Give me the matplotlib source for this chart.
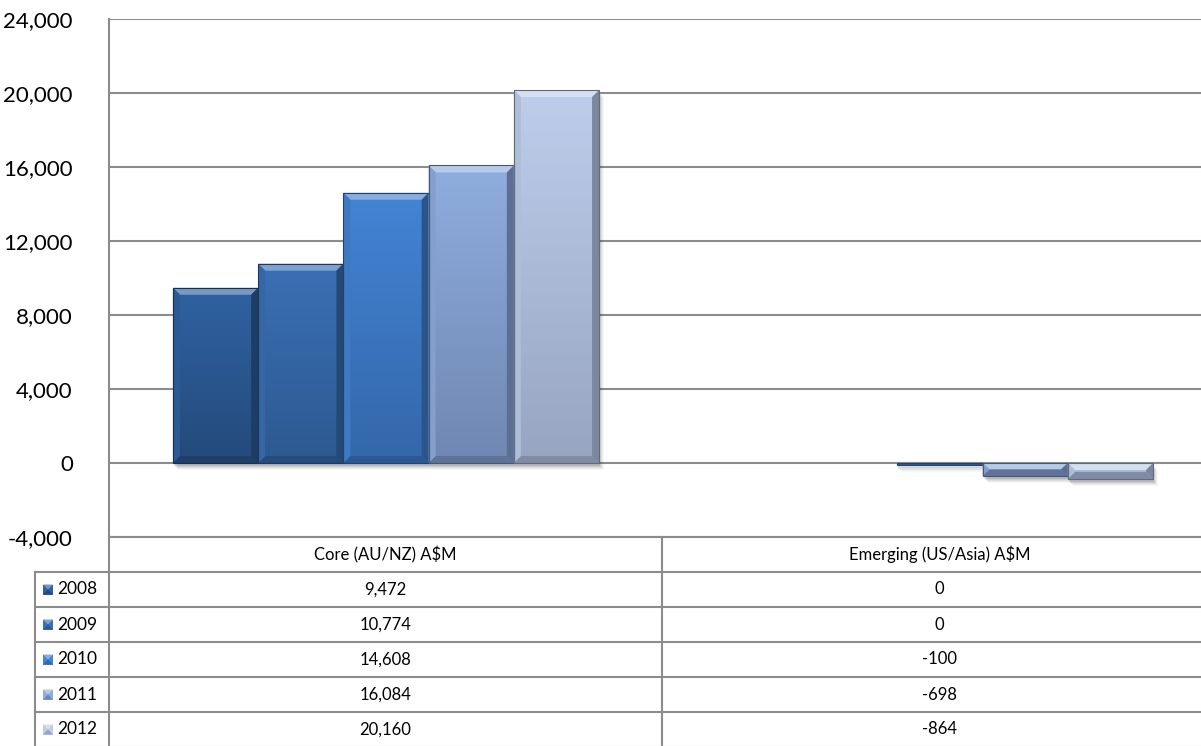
import numpy as np
import matplotlib
matplotlib.use('Agg')
import matplotlib.pyplot as plt
from matplotlib.patches import Polygon, Rectangle
from matplotlib.colors import to_rgb

plt.rcParams['font.family'] = ['Lato', 'DejaVu Sans']

# data
categories = ['Core (AU/NZ) A$M', 'Emerging (US/Asia) A$M']
years = ['2008', '2009', '2010', '2011', '2012']
core = [9472, 10774, 14608, 16084, 20160]
emerging = [0, 0, -100, -698, -864]
values = [core, emerging]

# top / bottom shades per year
top_cols = ['#2f62a2', '#3a70b5', '#4384d4', '#8fadde', '#bdcdeb']
bot_cols = ['#244a7b', '#2d5990', '#3467aa', '#6f87b2', '#97a5c1']

W, H = 1201, 746
fig = plt.figure(figsize=(W / 100, H / 100), dpi=100)

# plot area (right edge runs past the canvas)
ax_l, ax_r, ax_t, ax_b = 109, 1217, 19, 537
ax = fig.add_axes([ax_l / W, 1 - ax_b / H, (ax_r - ax_l) / W, (ax_b - ax_t) / H])
ax.set_xlim(-0.5, 1.5)
ax.set_ylim(-4000, 24000)
ax.set_yticks(np.arange(-4000, 24001, 4000))
ax.yaxis.set_major_formatter(matplotlib.ticker.FuncFormatter(lambda v, p: f'{int(v):,}'))
ax.tick_params(axis='y', length=0, pad=26, labelsize=16)
ax.set_xticks([])
ax.grid(axis='y', color='#8c8c8c', lw=1.5)
ax.set_axisbelow(True)
for s in ['top', 'right', 'bottom']:
    ax.spines[s].set_visible(False)
ax.spines['left'].set_color('#8c8c8c')
ax.spines['left'].set_linewidth(1.5)

nser = len(years)
bw = 1 / (nser + 1.5)
px_x = (1.5 - -0.5) / (ax_r - ax_l)
px_y = 28000 / (ax_b - ax_t)


def mix(c, other, t):
    c = np.array(to_rgb(c))
    o = np.array(to_rgb(other))
    return tuple(c * (1 - t) + o * t)


def shade_bar(bar, top, bot):
    x0, y0 = bar.get_x(), bar.get_y()
    w, h = bar.get_width(), bar.get_height()
    if h == 0:
        return
    ylo, yhi = min(y0, y0 + h), max(y0, y0 + h)
    # soft drop shadow
    for k, a in zip(range(1, 6), [0.10, 0.08, 0.06, 0.04, 0.03]):
        ax.add_patch(Rectangle((x0 + k * px_x, ylo - (k + 2) * px_y), w, yhi - ylo,
                               color='black', alpha=a, lw=0, zorder=1))
    # vertical gradient
    grad = np.linspace(0, 1, 64)[:, None]
    c_top, c_bot = np.array(to_rgb(top)), np.array(to_rgb(bot))
    img = c_top[None, None, :] * (1 - grad[..., None]) + c_bot[None, None, :] * grad[..., None]
    im = ax.imshow(img, extent=(x0, x0 + w, ylo, yhi), aspect='auto', origin='upper', zorder=3)
    im.set_clip_path(bar)
    # bevel edges
    bx, by = 7 * px_x, 7 * px_y
    by = min(by, (yhi - ylo) / 2)
    bx_eff = bx if (yhi - ylo) > 2 * px_y else 0
    xa, xb = x0, x0 + w
    ax.add_patch(Polygon([(xa, yhi), (xb, yhi), (xb - bx_eff, yhi - by), (xa + bx_eff, yhi - by)],
                         closed=True, color=mix(top, 'white', 0.35), lw=0, zorder=4))
    ax.add_patch(Polygon([(xa, ylo), (xb, ylo), (xb - bx_eff, ylo + by), (xa + bx_eff, ylo + by)],
                         closed=True, color=mix(bot, 'black', 0.15), lw=0, zorder=4))
    ax.add_patch(Polygon([(xa, yhi), (xa + bx_eff, yhi - by), (xa + bx_eff, ylo + by), (xa, ylo)],
                         closed=True, color=mix(top, 'black', 0.08), lw=0, zorder=4))
    ax.add_patch(Polygon([(xb, yhi), (xb - bx_eff, yhi - by), (xb - bx_eff, ylo + by), (xb, ylo)],
                         closed=True, color=mix(bot, 'black', 0.18), lw=0, zorder=4))
    ax.add_patch(Rectangle((x0, ylo), w, yhi - ylo, fill=False, ec=mix(bot, 'black', 0.35),
                           lw=0.8, zorder=5))


x = np.arange(len(categories))
for i in range(nser):
    vals = [values[c][i] for c in range(len(categories))]
    offs = x + (i - (nser - 1) / 2) * bw
    bars = ax.bar(offs, vals, bw, color=top_cols[i], lw=0, zorder=2)
    for b in bars:
        shade_bar(b, top_cols[i], bot_cols[i])

# data table under the plot
tab = fig.add_axes([0, 0, 1, 1], facecolor='none')
tab.set_xlim(0, W)
tab.set_ylim(H, 0)
tab.axis('off')
line_kw = dict(color='#8c8c8c', lw=1.5)
row_h = 35
head_top = ax_b
col_x = [ax_l, 662, ax_r]
tab.plot([ax_l, W], [head_top, head_top], **line_kw)
for r in range(1, nser + 2):
    yy = head_top + r * row_h
    tab.plot([35, W], [yy, yy], **line_kw)
tab.plot([35, 35], [head_top + row_h, H], **line_kw)
tab.plot([ax_l, ax_l], [head_top, H], **line_kw)
tab.plot([662, 662], [head_top, H], **line_kw)

centers = [(col_x[0] + col_x[1]) / 2, (col_x[1] + col_x[2]) / 2]
for c, name in enumerate(categories):
    tab.text(centers[c], head_top + row_h / 2, name, ha='center', va='center', fontsize=12)
for i, yr in enumerate(years):
    yc = head_top + (i + 1.5) * row_h
    tab.add_patch(Rectangle((43, yc - 5), 10, 10, color=top_cols[i], lw=0))
    tab.add_patch(Polygon([(43, yc - 5), (53, yc - 5), (48, yc)], color=mix(top_cols[i], 'white', 0.35), lw=0))
    tab.add_patch(Polygon([(43, yc + 5), (53, yc + 5), (48, yc)], color=bot_cols[i], lw=0))
    tab.text(57, yc, yr, ha='left', va='center', fontsize=12.5)
    for c in range(len(categories)):
        tab.text(centers[c], yc, f'{values[c][i]:,}', ha='center', va='center', fontsize=12)

fig.savefig('out.png', dpi=100)
